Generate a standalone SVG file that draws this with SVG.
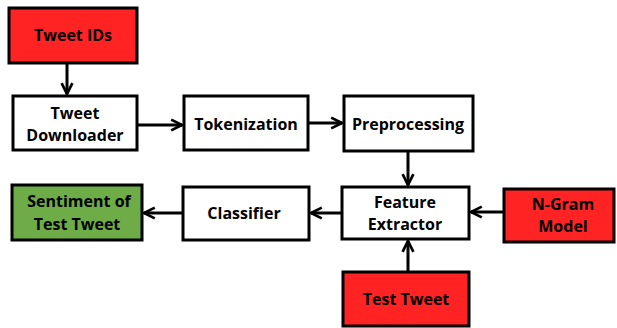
<svg xmlns="http://www.w3.org/2000/svg" width="617" height="328" viewBox="0 0 617 328">
<style>
.box{stroke:#000;stroke-width:3;fill:#fff}
.red{fill:#FF2323}
.green{fill:#6DAC46}
text{font-family:"Open Sans","Liberation Sans",sans-serif;font-weight:bold;font-size:16px;fill:#000;text-anchor:middle}
.c{stroke:#000;stroke-width:3;fill:none;marker-end:url(#ah)}
</style>
<defs>
<marker id="ah" viewBox="0 0 10 10" refX="9" refY="5" markerWidth="4.5" markerHeight="4.5" markerUnits="strokeWidth" orient="auto">
<path d="M1,1 L9,5 L1,9" fill="none" stroke="#000" stroke-width="2"/>
</marker>
</defs>
<g id="connectors">
<line class="c" x1="67" y1="63" x2="67" y2="94"/>
<line class="c" x1="137" y1="125" x2="182" y2="125"/>
<line class="c" x1="308" y1="123" x2="342" y2="123"/>
<line class="c" x1="408" y1="151" x2="408" y2="185"/>
<line class="c" x1="342" y1="213" x2="311" y2="213"/>
<line class="c" x1="504" y1="212" x2="471" y2="212"/>
<line class="c" x1="183" y1="213" x2="144" y2="213"/>
<line class="c" x1="408" y1="272" x2="408" y2="241"/>
</g>
<g id="tweet-ids"><rect class="box red" x="9" y="8" width="128" height="55"/><text x="73" y="41">Tweet IDs</text></g>
<g id="tweet-downloader"><rect class="box" x="13" y="96" width="124" height="54"/><text x="75" y="119">Tweet</text><text x="75" y="141">Downloader</text></g>
<g id="tokenization"><rect class="box" x="184" y="96" width="124" height="54"/><text x="246" y="130">Tokenization</text></g>
<g id="preprocessing"><rect class="box" x="344" y="96" width="129" height="55"/><text x="408" y="130">Preprocessing</text></g>
<g id="feature-extractor"><rect class="box" x="342" y="187" width="127" height="52"/><text x="405" y="208">Feature</text><text x="405" y="230">Extractor</text></g>
<g id="n-gram-model"><rect class="box red" x="504" y="189" width="110" height="53"/><text x="563" y="210">N-Gram</text><text x="563" y="232">Model</text></g>
<g id="classifier"><rect class="box" x="183" y="187" width="126" height="53"/><text x="244" y="219">Classifier</text></g>
<g id="sentiment"><rect class="box green" x="12" y="185" width="130" height="55"/><text x="79" y="207">Sentiment of</text><text x="77" y="230">Test Tweet</text></g>
<g id="test-tweet"><rect class="box red" x="343" y="272" width="126" height="54"/><text x="406" y="305">Test Tweet</text></g>
</svg>
